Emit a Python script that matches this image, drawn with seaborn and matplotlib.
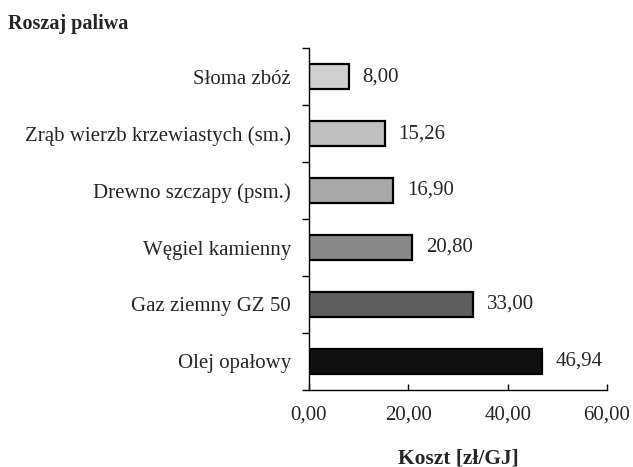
import matplotlib
matplotlib.use("Agg")
import matplotlib.pyplot as plt
import seaborn as sns
import pandas as pd

fuels = ['Słoma zbóż', 'Zrąb wierzb krzewiastych (sm.)', 'Drewno szczapy (psm.)',
         'Węgiel kamienny', 'Gaz ziemny GZ 50', 'Olej opałowy']
costs = [8.00, 15.26, 16.90, 20.80, 33.00, 46.94]
bar_colors = ['#d0d0d0', '#c0c0c0', '#a8a8a8', '#888888', '#5e5e5e', '#101010']
x_ticks = [0, 20, 40, 60]

df = pd.DataFrame({'paliwo': fuels, 'koszt': costs})

sns.set_style('white')
plt.rcParams['font.family'] = ['Liberation Serif', 'DejaVu Serif']

fig, ax = plt.subplots(figsize=(6.33, 4.67), dpi=100)
fig.subplots_adjust(left=0.488, right=0.959, bottom=0.165, top=0.897)

sns.barplot(data=df, x='koszt', y='paliwo', hue='paliwo', palette=bar_colors,
            legend=False, width=0.43, edgecolor='black', linewidth=1.6,
            orient='h', ax=ax)

for i, v in enumerate(costs):
    ax.annotate(f'{v:.2f}'.replace('.', ','), xy=(v, i), xytext=(10, 0),
                textcoords='offset points', va='center', ha='left', fontsize=15)

ax.set_xlim(0, 60)
ax.set_xticks(x_ticks)
ax.set_xticklabels([f'{t:.2f}'.replace('.', ',') for t in x_ticks], fontsize=15)
ax.set_ylim(5.5, -0.5)
# major ticks between categories, labels on minor ticks at bar centres
ax.set_yticks([i + 0.5 for i in range(-1, len(fuels))], minor=False)
ax.set_yticklabels([])
ax.set_yticks(range(len(fuels)), minor=True)
ax.set_yticklabels(fuels, minor=True, fontsize=15)
ax.tick_params(axis='y', which='major', direction='out', length=5, width=1, left=True, color='black')
ax.tick_params(axis='y', which='minor', length=0, pad=13)
ax.tick_params(axis='x', direction='in', length=4, width=1, bottom=True, color='black', pad=11)

for s in ['top', 'right']:
    ax.spines[s].set_visible(False)
for s in ['left', 'bottom']:
    ax.spines[s].set_color('black')
    ax.spines[s].set_linewidth(1)

ax.set_ylabel('')
ax.set_xlabel('Koszt [zł/GJ]', fontsize=15.5, fontweight='bold')
ax.xaxis.set_label_coords(0.5, -0.17)

fig.text(0.013, 0.948, 'Roszaj paliwa', fontsize=14.5, fontweight='bold', va='center', ha='left')

fig.savefig('out.png', dpi=100)
